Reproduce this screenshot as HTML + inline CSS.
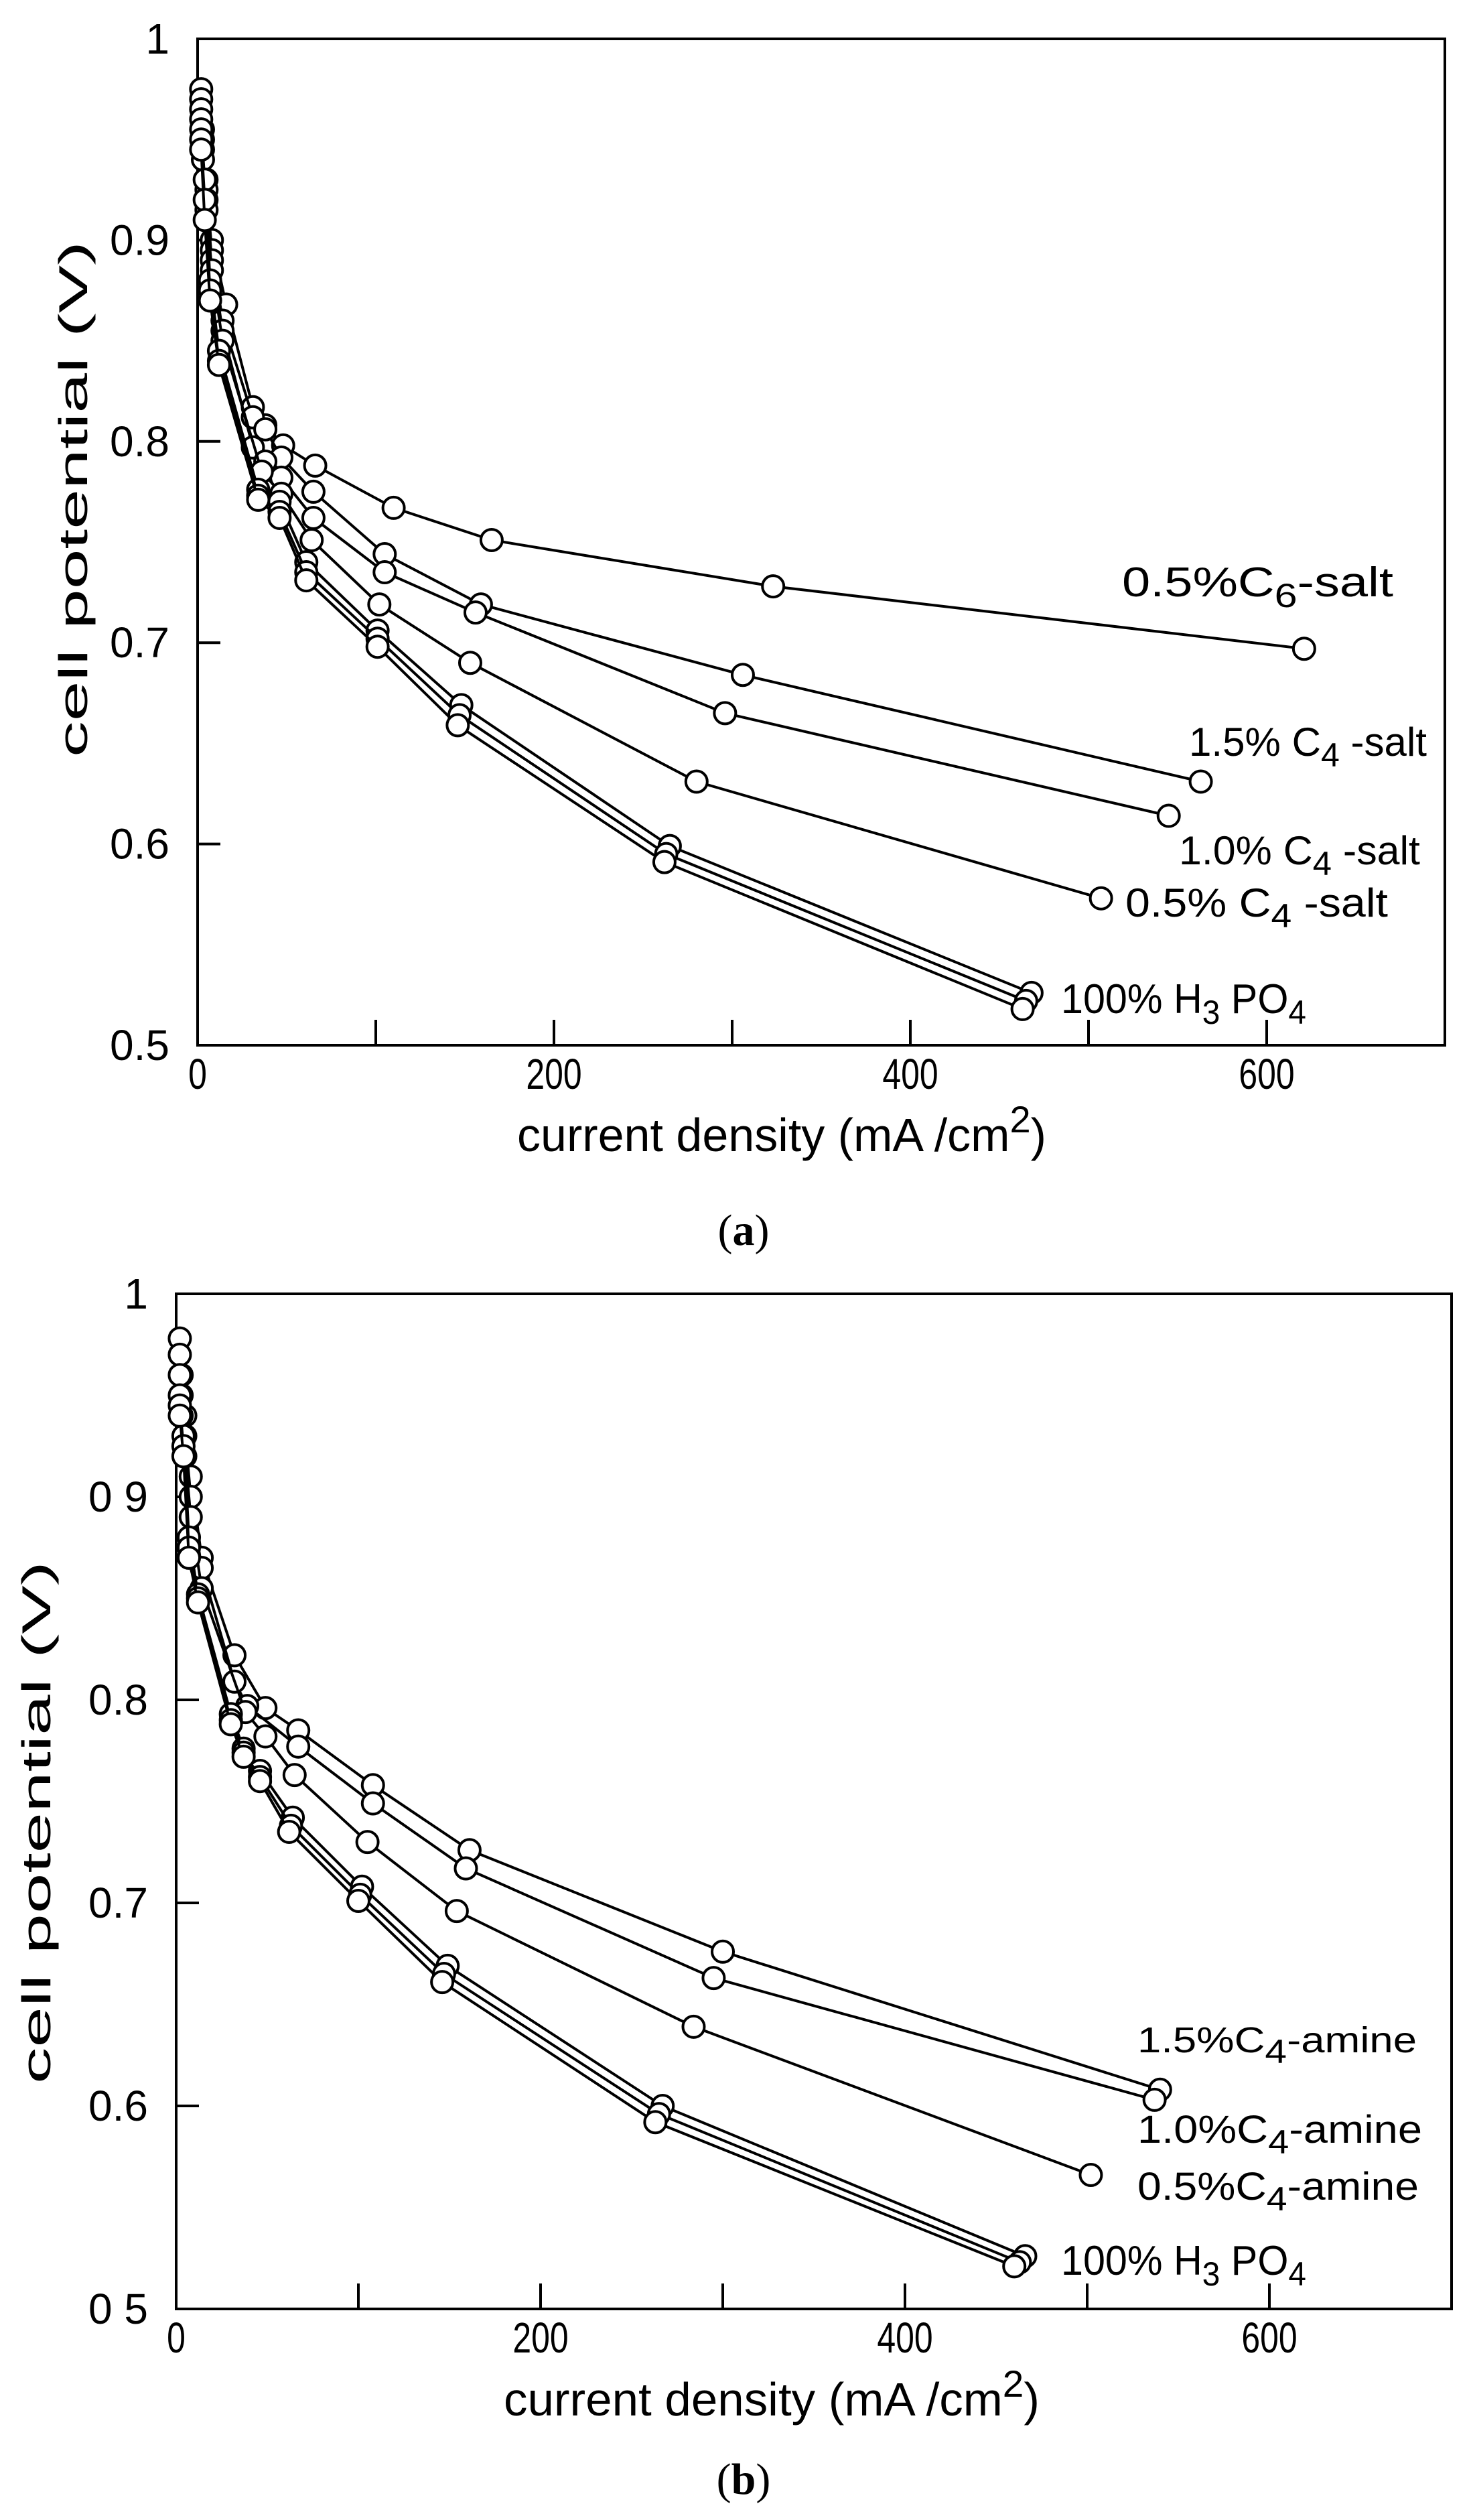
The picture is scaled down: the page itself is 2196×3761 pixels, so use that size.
<!DOCTYPE html>
<html><head><meta charset="utf-8">
<style>
html,body{margin:0;padding:0;background:#fff;}
svg{display:block;}
text{font-family:"Liberation Sans",sans-serif;fill:#000;}
.serif{font-family:"Liberation Serif",serif;}
</style></head>
<body>
<svg id="fig" width="2196" height="3761" viewBox="0 0 2196 3761" xmlns="http://www.w3.org/2000/svg">
<rect x="0" y="0" width="2196" height="3761" fill="#fff"/>
<g id="panelA"></g>
<g id="panelB"></g>
<text class="serif" x="1110" y="1858" font-size="66" text-anchor="middle">(<tspan font-weight="bold">a</tspan>)</text>
<text class="serif" x="1110" y="3722" font-size="66" text-anchor="middle">(<tspan font-weight="bold">b</tspan>)</text>
</svg>
<script>
// ---------- Data (panel a) ----------
const xTicks = [0, 200, 400, 600];
const xMinorTicks = [100, 300, 500];
const yTicksA = [1.0, 0.9, 0.8, 0.7, 0.6, 0.5];
const yTickLabelsA = ["1", "0.9", "0.8", "0.7", "0.6", "0.5"];
const yTickLabelsB = ["1", "0 9", "0.8", "0.7", "0.6", "0 5"];

const aC6x   = [2, 3, 5, 8, 16, 31, 38, 48, 66, 110, 165, 323, 621];
const aC6y   = [0.975, 0.955, 0.93, 0.90, 0.868, 0.817, 0.808, 0.798, 0.788, 0.767, 0.751, 0.728, 0.697];
const aC4h_x = [2, 3, 5, 8, 14, 31, 38, 47, 65, 105, 159, 306, 563];
const aC4h_y = [0.97, 0.95, 0.925, 0.895, 0.86, 0.812, 0.806, 0.792, 0.775, 0.744, 0.719, 0.684, 0.631];
const aC4m_x = [2, 3, 5, 8, 14, 31, 38, 47, 65, 105, 156, 296, 545];
const aC4m_y = [0.965, 0.945, 0.92, 0.89, 0.855, 0.797, 0.79, 0.782, 0.762, 0.735, 0.715, 0.665, 0.614];
const aC4l_x = [2, 3, 5, 8, 14, 36, 47, 64, 102, 153, 280, 507];
const aC4l_y = [0.96, 0.94, 0.915, 0.885, 0.85, 0.785, 0.774, 0.751, 0.719, 0.690, 0.631, 0.573];
const aH1x = [2, 4, 7, 12, 34, 46, 61, 101, 148, 265, 468];
const aH1y = [0.955, 0.93, 0.88, 0.845, 0.776, 0.77, 0.74, 0.706, 0.669, 0.599, 0.526];
const aH2x = [2, 4, 7, 12, 34, 46, 61, 101, 147, 263, 465];
const aH2y = [0.95, 0.92, 0.875, 0.84, 0.773, 0.765, 0.735, 0.702, 0.664, 0.595, 0.522];
const aH3x = [2, 4, 7, 12, 34, 46, 61, 101, 146, 262, 463];
const aH3y = [0.945, 0.91, 0.87, 0.838, 0.771, 0.762, 0.731, 0.698, 0.659, 0.591, 0.518];

// ---------- Data (panel b) ----------
const bA15x = [2, 3, 5, 8, 14, 32, 49, 67, 108, 161, 300, 540];
const bA15y = [0.978, 0.96, 0.94, 0.91, 0.87, 0.822, 0.796, 0.785, 0.758, 0.726, 0.676, 0.608];
const bA10x = [2, 3, 5, 8, 14, 32, 39, 67, 108, 159, 295, 537];
const bA10y = [0.97, 0.95, 0.93, 0.90, 0.865, 0.809, 0.797, 0.777, 0.749, 0.717, 0.663, 0.603];
const bA05x = [2, 3, 5, 8, 14, 38, 49, 65, 105, 154, 284, 502];
const bA05y = [0.96, 0.94, 0.92, 0.89, 0.855, 0.794, 0.782, 0.763, 0.730, 0.696, 0.639, 0.566];
const bH1x = [2, 4, 7, 12, 30, 37, 46, 64, 102, 149, 267, 466];
const bH1y = [0.95, 0.93, 0.88, 0.852, 0.793, 0.776, 0.765, 0.742, 0.708, 0.669, 0.600, 0.526];
const bH2x = [2, 4, 7, 12, 30, 37, 46, 63, 101, 147, 265, 463];
const bH2y = [0.945, 0.925, 0.875, 0.85, 0.79, 0.774, 0.762, 0.738, 0.704, 0.665, 0.596, 0.523];
const bH3x = [2, 4, 7, 12, 30, 37, 46, 62, 100, 146, 263, 460];
const bH3y = [0.94, 0.92, 0.87, 0.848, 0.788, 0.772, 0.76, 0.735, 0.701, 0.661, 0.592, 0.521];

const NS = "http://www.w3.org/2000/svg";
function mk(tag, attrs, parent) {
  const e = document.createElementNS(NS, tag);
  for (const k in attrs) e.setAttribute(k, attrs[k]);
  parent.appendChild(e);
  return e;
}

function drawPanel(g, cfg) {
  const sx = v => cfg.x0 + (v - 0) * cfg.pxPerX;
  const sy = v => cfg.yBottom - (v - 0.5) * cfg.pxPerY;
  const xRight = sx(700), yTop = sy(1.0);
  const frame = mk("rect", {x: sx(0), y: yTop, width: xRight - sx(0), height: cfg.yBottom - yTop, fill: "none", stroke: "#000", "stroke-width": 4}, g);
  
  
  xTicks.concat(xMinorTicks).forEach(v => {
    if (v === 0) return;
    const t = mk("line", {x1: sx(v), x2: sx(v), y1: cfg.yBottom, y2: cfg.yBottom - 38, stroke: "#000", "stroke-width": 4}, g);
    
    
  });
  xTicks.forEach(v => {
    const t = mk("text", {x: sx(v), y: cfg.yBottom + 65, "font-size": 64, "text-anchor": "middle", transform: `translate(${sx(v)} 0) scale(0.78 1) translate(${-sx(v)} 0)`}, g);
    t.textContent = String(v);
    
    
  });
  yTicksA.forEach((v, i) => {
    if (v > 0.5 && v < 1.0) {
      const t = mk("line", {x1: sx(0), x2: sx(0) + 34, y1: sy(v), y2: sy(v), stroke: "#000", "stroke-width": 4}, g);
      
      
    }
    const lx = sx(0) - 42;
    const lab = mk("text", {x: lx, y: sy(v) + 22, "font-size": 64, "text-anchor": "end"}, g);
    lab.textContent = cfg.yLabels[i];
    
    
  });
  const xt = mk("text", {x: cfg.xTitleX, y: cfg.xTitleY, "font-size": 70, "text-anchor": "middle", textLength: cfg.xTitleW, lengthAdjust: "spacingAndGlyphs"}, g);
  xt.innerHTML = 'current  density (mA /cm<tspan dy="-28" font-size="56">2</tspan><tspan dy="28">)</tspan>';
  
  
  const yt = mk("text", {x: 0, y: 0, "font-size": 60, "text-anchor": "middle", textLength: cfg.yTitleW, lengthAdjust: "spacingAndGlyphs", transform: `translate(${cfg.yTitleX} ${cfg.yTitleY}) rotate(-90)`}, g);
  yt.textContent = "cell  potential (V)";
  
  
  cfg.series.forEach(s => {
    const sg = mk("g", {}, g);
    
    
    const pts = s.x.map((xv, i) => sx(xv).toFixed(1) + "," + sy(s.y[i]).toFixed(1)).join(" ");
    const pl = mk("polyline", {points: pts, fill: "none", stroke: "#000", "stroke-width": 4, "stroke-linejoin": "round"}, sg);
    
    
    s.x.forEach((xv, i) => {
      const c = mk("circle", {cx: sx(xv), cy: sy(s.y[i]), r: 16, fill: "#fff", stroke: "#000", "stroke-width": 4}, sg);
      
      
    });
  });
  cfg.labels.forEach(L => {
    const t = mk("text", {x: L.x, y: L.y, "font-size": L.fs, textLength: L.w, lengthAdjust: "spacingAndGlyphs"}, g);
    t.innerHTML = L.html;
    
    
  });
}

const sub = (s) => `<tspan dy="16" font-size="50">${s}</tspan><tspan dy="-16">`;

drawPanel(document.getElementById("panelA"), {
  x0: 295, pxPerX: 2.66, yBottom: 1560, pxPerY: 3004,
  yLabels: yTickLabelsA, xTitleX: 1167, xTitleY: 1718, xTitleW: 790, yTitleX: 130, yTitleY: 745, yTitleW: 770,
  series: [
    {name: "series-0-5pct-c6-salt", x: aC6x, y: aC6y},
    {name: "series-1-5pct-c4-salt", x: aC4h_x, y: aC4h_y},
    {name: "series-1-0pct-c4-salt", x: aC4m_x, y: aC4m_y},
    {name: "series-0-5pct-c4-salt", x: aC4l_x, y: aC4l_y},
    {name: "series-h3po4-1", x: aH1x, y: aH1y},
    {name: "series-h3po4-2", x: aH2x, y: aH2y},
    {name: "series-h3po4-3", x: aH3x, y: aH3y}
  ],
  labels: [
    {name: "label-0-5pct-c6-salt", x: 1675, y: 890, fs: 62, w: 405, html: "0.5%C" + sub("6") + "-salt</tspan>"},
    {name: "label-1-5pct-c4-salt", x: 1775, y: 1128, fs: 60, w: 355, html: "1.5% C" + sub("4") + " -salt</tspan>"},
    {name: "label-1-0pct-c4-salt", x: 1760, y: 1290, fs: 60, w: 360, html: "1.0% C" + sub("4") + "  -salt</tspan>"},
    {name: "label-0-5pct-c4-salt", x: 1680, y: 1368, fs: 60, w: 392, html: "0.5% C" + sub("4") + "  -salt</tspan>"},
    {name: "label-100pct-h3po4-a", x: 1584, y: 1512, fs: 62, w: 366, html: "100% H" + sub("3") + " PO</tspan>" + sub("4") + "</tspan>"}
  ]
});

drawPanel(document.getElementById("panelB"), {
  x0: 263, pxPerX: 2.72, yBottom: 3446, pxPerY: 3030,
  yLabels: yTickLabelsB, xTitleX: 1152, xTitleY: 3605, xTitleW: 800, yTitleX: 75, yTitleY: 2720, yTitleW: 780,
  series: [
    {name: "series-1-5pct-c4-amine", x: bA15x, y: bA15y},
    {name: "series-1-0pct-c4-amine", x: bA10x, y: bA10y},
    {name: "series-0-5pct-c4-amine", x: bA05x, y: bA05y},
    {name: "series-h3po4-b1", x: bH1x, y: bH1y},
    {name: "series-h3po4-b2", x: bH2x, y: bH2y},
    {name: "series-h3po4-b3", x: bH3x, y: bH3y}
  ],
  labels: [
    {name: "label-1-5pct-c4-amine", x: 1698, y: 3063, fs: 54, w: 417, html: "1.5%C" + sub("4") + "-amine</tspan>"},
    {name: "label-1-0pct-c4-amine", x: 1698, y: 3198, fs: 58, w: 425, html: "1.0%C" + sub("4") + "-amine</tspan>"},
    {name: "label-0-5pct-c4-amine", x: 1698, y: 3283, fs: 58, w: 420, html: "0.5%C" + sub("4") + "-amine</tspan>"},
    {name: "label-100pct-h3po4-b", x: 1584, y: 3395, fs: 62, w: 366, html: "100% H" + sub("3") + " PO</tspan>" + sub("4") + "</tspan>"}
  ]
});
</script>
</body></html>
